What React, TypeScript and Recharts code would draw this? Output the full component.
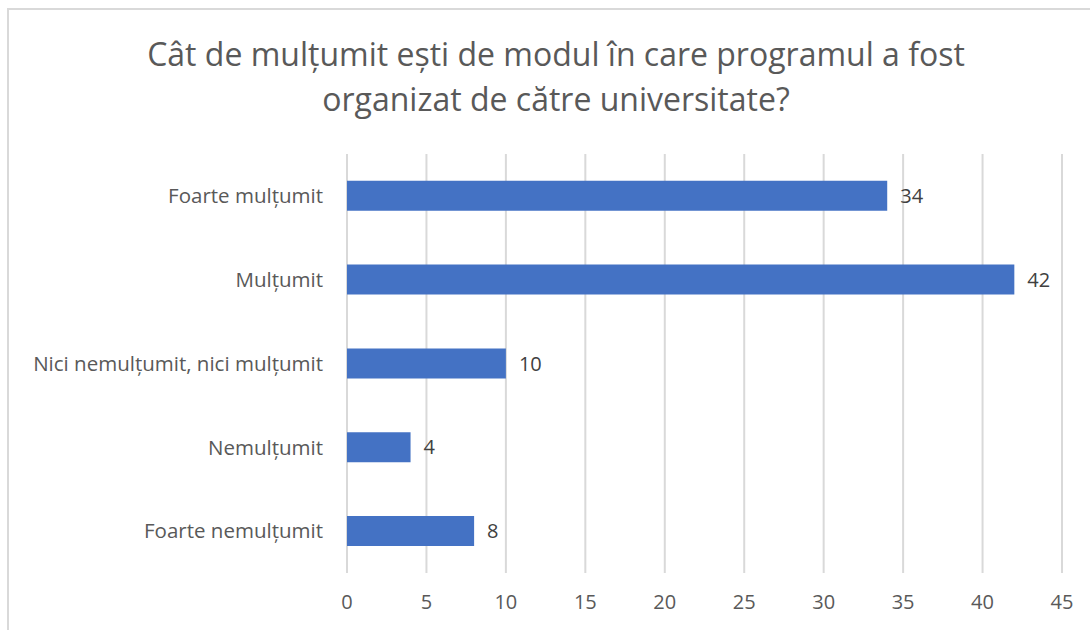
import React from 'react';
import { BarChart, Bar, XAxis, YAxis, CartesianGrid, LabelList } from 'recharts';

// ─── Data ─────────────────────────────────────────────────────────────────────

const categories = [
  'Foarte mulțumit',
  'Mulțumit',
  'Nici nemulțumit, nici mulțumit',
  'Nemulțumit',
  'Foarte nemulțumit',
];

const responses = [34, 42, 10, 4, 8];

const xTicks = [0, 5, 10, 15, 20, 25, 30, 35, 40, 45];

const titleLines = [
  'Cât de mulțumit ești de modul în care programul a fost',
  'organizat de către universitate?',
];

const rows = categories.map((name, i) => ({ name, value: responses[i] }));

const FONT = '"Open Sans", "Noto Sans", sans-serif';
const TEXT = '#595959';

export default function App() {
  return (
    <div
      style={{
        position: 'fixed',
        left: 0,
        top: 0,
        width: 1090,
        height: 630,
        overflow: 'hidden',
        background: '#fff',
        fontFamily: FONT,
      }}
    >
      {/* chart frame, cut off on right and bottom */}
      <div
        style={{
          position: 'absolute',
          left: 7,
          top: 8,
          width: 1200,
          height: 800,
          borderLeft: '2px solid #d9d9d9',
          borderTop: '2px solid #d9d9d9',
        }}
      />

      {/* Title */}
      <div
        style={{
          position: 'absolute',
          left: 0,
          top: 31,
          width: 1112,
          textAlign: 'center',
          fontSize: 32,
          lineHeight: '45px',
          color: TEXT,
        }}
      >
        {titleLines.map((t) => (
          <div key={t}>{t}</div>
        ))}
      </div>

      <div style={{ position: 'absolute', left: 0, top: 0 }}>
        <BarChart
          width={1090}
          height={630}
          data={rows}
          layout="vertical"
          margin={{ top: 154, right: 28, bottom: 17, left: 0 }}
          barCategoryGap="32%"
        >
          <CartesianGrid horizontal={false} stroke="#d9d9d9" strokeWidth={2} />
          <XAxis
            type="number"
            domain={[0, 45]}
            ticks={xTicks}
            interval={0}
            axisLine={false}
            tickLine={false}
            tickSize={0}
            tickMargin={22}
            height={40}
            tick={{ fontSize: 20, fill: TEXT, fontFamily: FONT }}
          />
          <YAxis
            type="category"
            dataKey="name"
            width={347}
            axisLine={false}
            tickLine={false}
            tickSize={0}
            tickMargin={24}
            interval={0}
            tick={{ fontSize: 20.5, fill: TEXT, fontFamily: FONT }}
          />
          <Bar dataKey="value" fill="#4472C4" isAnimationActive={false}>
            <LabelList
              dataKey="value"
              position="right"
              offset={13}
              style={{ fontSize: 20, fill: '#404040', fontFamily: FONT }}
            />
          </Bar>
        </BarChart>
      </div>
    </div>
  );
}
